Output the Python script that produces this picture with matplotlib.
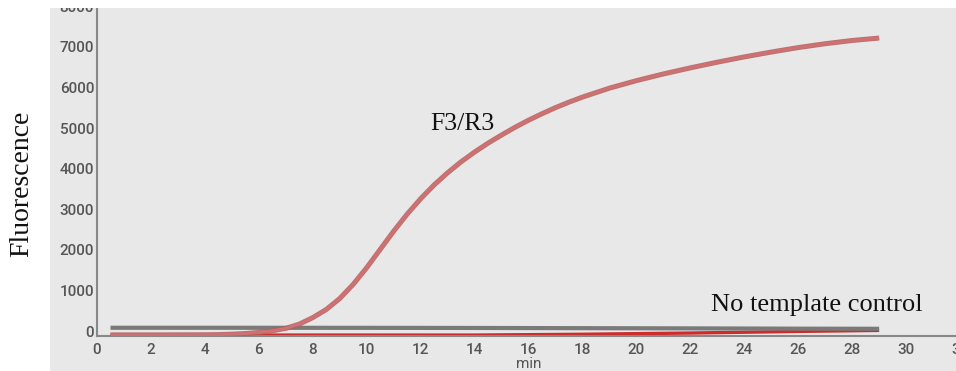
import matplotlib.pyplot as plt
from matplotlib.patches import Rectangle
import numpy as np

# F3/R3 amplification curve (min, fluorescence)
f3r3_t = [0.5, 1, 2, 3, 4, 4.5, 5, 5.5, 6, 6.5, 7, 7.5, 8, 8.5, 9, 9.5, 10, 10.5, 11, 11.5,
          12, 12.5, 13, 13.5, 14, 14.5, 15, 15.5, 16, 16.5, 17, 17.5, 18, 19, 20, 21, 22,
          23, 24, 25, 26, 27, 28, 29]
f3r3_y = [-95, -95, -95, -94, -92, -88, -78, -62, -35, 5, 65, 170, 330, 530, 800, 1150,
          1560, 2010, 2460, 2880, 3260, 3600, 3900, 4170, 4410, 4630, 4830, 5020, 5195,
          5355, 5505, 5640, 5765, 5985, 6170, 6335, 6485, 6625, 6755, 6875, 6985, 7080,
          7160, 7220]

# no template control, two traces
ntc_t = [0.5, 5, 10, 14, 18, 22, 26, 29]
ntc_gray = [80, 80, 78, 75, 70, 65, 58, 55]
ntc_red = [-100, -100, -100, -100, -80, -50, -10, 15]

yticks = [0, 1000, 2000, 3000, 4000, 5000, 6000, 7000, 8000]
xticks = np.arange(0, 34, 2)

fig = plt.figure(figsize=(9.56, 3.71), dpi=100)

# grey panel behind the plot
fig.patches.append(Rectangle((50 / 956, 0), 1 - 50 / 956, 363 / 371, transform=fig.transFigure,
                             facecolor='#e8e8e8', edgecolor='none', zorder=-1))

ax = fig.add_axes([97 / 956, 35 / 371, 32 * 26.97 / 956, 329.6 / 371])
ax.set_facecolor('#e8e8e8')
ax.patch.set_alpha(0)

ax.plot(ntc_t, ntc_red, color='#d02a2a', lw=2.4, solid_capstyle='butt', zorder=2)
ax.plot(ntc_t, ntc_gray, color='#7a7a7a', lw=3, solid_capstyle='butt', zorder=3)
ax.plot(f3r3_t, f3r3_y, color='#b85a5a', lw=3.6, alpha=0.85, solid_capstyle='butt', zorder=4)
ax.plot(f3r3_t, f3r3_y, color='#cd7272', lw=2.2, solid_capstyle='butt', zorder=4)

ax.set_xlim(0, 32)
ax.set_ylim(-123, 8000)
ax.set_xticks(xticks)
ax.set_yticks(yticks)

for s in ['top', 'right']:
    ax.spines[s].set_visible(False)
for s in ['left', 'bottom']:
    ax.spines[s].set_color('#888888')
    ax.spines[s].set_linewidth(1.5)

ax.tick_params(length=0, labelsize=11, labelcolor='#555555')
ax.tick_params(axis='y', pad=2)
ax.tick_params(axis='x', pad=5)
for lab in ax.get_xticklabels() + ax.get_yticklabels():
    lab.set_fontfamily('Roboto')
    lab.set_fontweight('medium')

ax.set_xlabel('min', fontfamily='Roboto', fontsize=11, color='#555555', labelpad=0)

ax.text(12.35, 4954, 'F3/R3', fontfamily='Liberation Serif', fontsize=18.5,
        ha='left', va='baseline', color='#111111')
ax.text(22.77, 493, 'No template control', fontfamily='Liberation Serif', fontsize=19,
        ha='left', va='baseline', color='#111111')

fig.text(22 / 956, 1 - 183.5 / 371, 'Fluorescence', rotation=90, fontfamily='Liberation Serif',
         fontsize=20, ha='center', va='center', color='#111111')

# white strip cuts the top of the axis like in the screenshot
fig.patches.append(Rectangle((0, 363 / 371), 1, 8 / 371, transform=fig.transFigure,
                             facecolor='white', edgecolor='none', zorder=10))

plt.savefig('out.png', dpi=100)
